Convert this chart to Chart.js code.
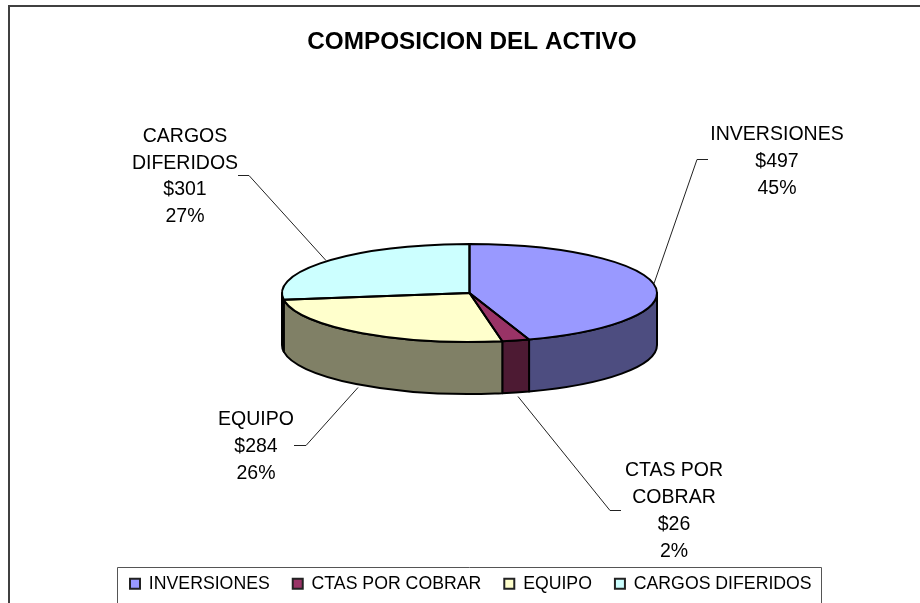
<!DOCTYPE html>
<html><head><meta charset="utf-8">
<style>html,body{margin:0;padding:0;background:#fff;overflow:hidden}canvas{display:block}</style>
<script src="https://cdn.jsdelivr.net/npm/chart.js@4/dist/chart.umd.min.js"></script>
</head><body><canvas id="c" width="920" height="603"></canvas>
<script>
const chartTitle = 'COMPOSICION DEL ACTIVO';
const categories = ['INVERSIONES', 'CTAS POR COBRAR', 'EQUIPO', 'CARGOS DIFERIDOS'];
const values = [497, 26, 284, 301];
const labelNameLines = [['INVERSIONES'], ['CTAS POR', 'COBRAR'], ['EQUIPO'], ['CARGOS', 'DIFERIDOS']];
const faceColors = ['#9999FF', '#993366', '#FFFFCC', '#CCFFFF'];
const wallColors = ['#4D4D80', '#4D1A33', '#808066', '#668080'];

// presentation geometry
const cx = 469.5, cy = 293, rx = 187.5, ry = 49, depth = 52;
const labelPlacement = [
  {x: 777, y: 134.5, step: 27, line: [[708,159],[697,159],[654,283]]},
  {x: 674, y: 470.5, step: 27, line: [[621,510],[610,510],[518,396]]},
  {x: 256, y: 419.5, step: 27, line: [[294,445],[306,445],[358,387]]},
  {x: 185, y: 136.5, step: 26.7, line: [[238,175],[249,175],[326,260]]}
];
const FONT = '"Liberation Sans", Arial, sans-serif';

const pie3d = {
  id: 'pie3d',
  afterLayout(chart) {
    chart.chartArea = {left: cx-rx, right: cx+rx, top: cy-rx, bottom: cy+rx, width: 2*rx, height: 2*rx};
    const lg = chart.legend;
    lg.left = 107; lg.right = 920; lg.top = 552; lg.bottom = 603;
    const t = chart.titleBlock;
    t.left = 24; t.right = 920;
  },
  beforeDraw(chart) {
    const c = chart.ctx;
    c.save();
    c.fillStyle = '#fff';
    c.fillRect(0, 0, 920, 603);
    c.fillStyle = '#404040';
    c.fillRect(8, 5, 912, 2);
    c.fillRect(8, 5, 2, 598);
    c.restore();
  },
  beforeDatasetsDraw(chart) {
    const c = chart.ctx;
    const arcs = chart.getDatasetMeta(0).data;
    c.save();
    c.strokeStyle = '#000';
    c.lineWidth = 2;
    c.lineJoin = 'round';
    arcs.forEach((a, i) => {
      const s = Math.max(a.startAngle, 0), e = Math.min(a.endAngle, Math.PI);
      if (e <= s) return;
      c.beginPath();
      c.ellipse(cx, cy, rx, ry, 0, s, e);
      c.ellipse(cx, cy + depth, rx, ry, 0, e, s, true);
      c.closePath();
      c.fillStyle = wallColors[i];
      c.fill();
      c.stroke();
    });
    c.restore();
  },
  beforeDatasetDraw(chart) {
    const c = chart.ctx;
    c.save();
    c.translate(cx, cy);
    c.scale(1, ry / rx);
    c.translate(-cx, -cy);
  },
  afterDatasetDraw(chart) {
    const c = chart.ctx;
    c.restore();
    const arcs = chart.getDatasetMeta(0).data;
    c.save();
    c.strokeStyle = '#000';
    c.lineWidth = 2;
    c.lineJoin = 'round';
    arcs.forEach(a => {
      c.beginPath();
      c.moveTo(cx, cy);
      c.ellipse(cx, cy, rx, ry, 0, a.startAngle, a.endAngle);
      c.closePath();
      c.stroke();
    });
    c.restore();
  },
  afterDraw(chart) {
    const c = chart.ctx;
    const total = values.reduce((p, v) => p + v, 0);
    c.save();
    // leader lines
    c.strokeStyle = '#222';
    c.lineWidth = 1;
    labelPlacement.forEach(p => {
      c.beginPath();
      p.line.forEach((pt, k) => k ? c.lineTo(pt[0], pt[1] + .5) : c.moveTo(pt[0], pt[1] + .5));
      c.stroke();
    });
    // labels
    c.fillStyle = '#000';
    c.font = '19.5px ' + FONT;
    c.textAlign = 'center';
    c.textBaseline = 'middle';
    labelPlacement.forEach((p, i) => {
      const lines = labelNameLines[i].concat(['$' + values[i], Math.round(values[i] / total * 100) + '%']);
      lines.forEach((t, k) => c.fillText(t, p.x, p.y + k * p.step));
    });
    // legend frame
    c.strokeStyle = '#555';
    c.lineWidth = 1;
    c.beginPath();
    c.moveTo(117.5, 603);
    c.lineTo(117.5, 567.5);
    c.lineTo(821.5, 567.5);
    c.lineTo(821.5, 603);
    c.stroke();
    c.restore();
  }
};

new Chart(document.getElementById('c'), {
  type: 'pie',
  data: {
    labels: categories,
    datasets: [{data: values, backgroundColor: faceColors, borderWidth: 0, hoverOffset: 0}]
  },
  options: {
    responsive: false,
    animation: false,
    devicePixelRatio: 1,
    rotation: 0,
    plugins: {
      tooltip: {enabled: false},
      title: {
        display: true,
        text: chartTitle,
        color: '#000',
        font: {family: FONT, size: 24.3, weight: 'bold'},
        padding: {top: 28, bottom: 0}
      },
      legend: {
        position: 'bottom',
        align: 'start',
        labels: {
          boxWidth: 10,
          boxHeight: 10,
          padding: 23,
          color: '#000',
          font: {family: FONT, size: 17.7},
          generateLabels(chart) {
            return categories.map((t, i) => ({
              text: t, fillStyle: faceColors[i], strokeStyle: '#222',
              lineWidth: 2, hidden: false, index: i
            }));
          }
        }
      }
    }
  },
  plugins: [pie3d]
});
</script></body></html>
